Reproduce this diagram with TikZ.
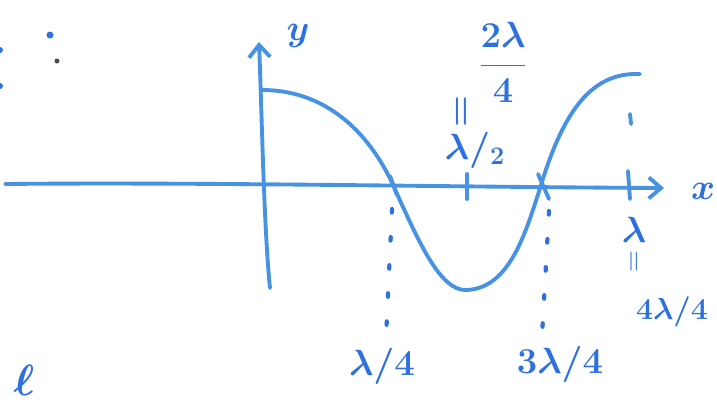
\documentclass[tikz,border=0pt]{standalone}
\usepackage{amsmath,amssymb}
\usetikzlibrary{arrows.meta}
\definecolor{penblue}{RGB}{72,146,226}
\definecolor{inkblue}{RGB}{46,112,222}

\begin{document}
\begin{tikzpicture}[x=0.02cm,y=-0.02cm,
	pen/.style={penblue, line width=2.2pt, line cap=round},
	lbl/.style={inkblue, font=\huge\boldmath},
	dotline/.style={inkblue, line width=2.4pt, line cap=round, dash pattern=on 2pt off 14pt}]
	\useasboundingbox (0,0) rectangle (717,407);
	
	% Axes
	\draw[pen, -{Straight Barb[length=7pt,width=12pt]}] (5,184) .. controls (200,182) and (450,187) .. (664,188);
	\draw[pen, -{Straight Barb[length=7pt,width=12pt]}] (270,288) .. controls (264,230) and (262,120) .. (259,42);
	\node[lbl] (xlab) at (703,191) {$x$};
	\node[lbl] (ylab) at (298,36) {$y$};
	
	% Wave
	\coordinate (top) at (262,90);
	\coordinate (q1) at (393,185);
	\coordinate (q2) at (467,185);
	\coordinate (q3) at (541,185);
	\coordinate (q4) at (630,185);
	\draw[pen] (top) .. controls (335,90) and (375,145) .. (q1)
		.. controls (418,240) and (440,292) .. (467,290)
		.. controls (510,288) and (526,232) .. (q3)
		.. controls (564,110) and (592,72) .. (640,74);
	
	% Ticks on the x axis
	\draw[pen] ([shift={(-3,-9)}]q1) -- ([shift={(4,10)}]q1);
	\draw[pen] ([shift={(0,-11)}]q2) -- ([shift={(0,14)}]q2);
	\draw[pen] ([shift={(-3,-11)}]q3) -- ([shift={(8,14)}]q3);
	\draw[pen] ([shift={(-2,-14)}]q4) -- ([shift={(0,14)}]q4);
	\draw[pen] (630,114) -- (631,124);
	
	% Labels below
	\node[lbl] (quarter) at (382,366) {$\lambda/4$};
	\node[lbl] (threeq) at (560,364) {$3\lambda/4$};
	\draw[dotline] ([shift={(-1,24)}]q1) -- ([shift={(4,-4)}]quarter.north);
	\draw[dotline] ([shift={(8,26)}]q3) -- ([shift={(-18,-4)}]threeq.north);
	
	\node[lbl] (full) at (634,230) {$\lambda$};
	\node[lbl, rotate=90, font=\LARGE] (eqa) at (636,262) {$=$};
	\node[lbl, font=\LARGE\boldmath] (fourq) at (672,312) {$4\lambda/4$};
	
	% Labels above
	\node[lbl] (half) at (475,150) {$\lambda/_{2}$};
	\node[lbl, rotate=90] (eqb) at (463,112) {$=$};
	\node[lbl] (twoq) at (503,62) {$\dfrac{2\lambda}{4}$};
	
	% Marks at the left edge
	\fill[inkblue] (50,35) circle (3.5);
	\fill[black!70] (57,61) circle (2.5);
	\fill[inkblue] (0,50) circle (3);
	\fill[inkblue] (0,86) circle (3);
	\node[lbl, font=\Huge\boldmath] (ell) at (24,380) {$\ell$};
\end{tikzpicture}
\end{document}
